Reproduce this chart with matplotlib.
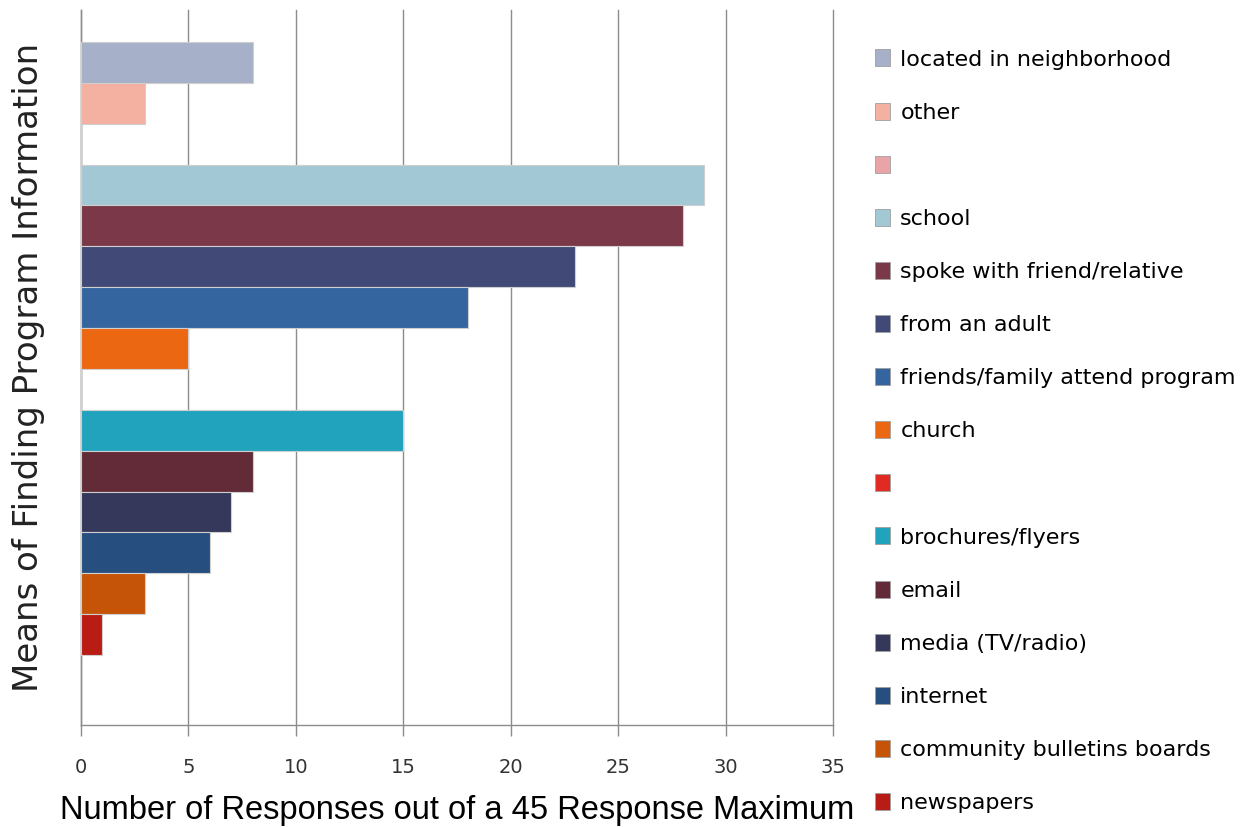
import matplotlib
matplotlib.use('Agg')
import matplotlib.pyplot as plt
from matplotlib.patches import Patch
import numpy as np

# one bar per source, grouped top to bottom; blank labels are empty series
labels = ['located in neighborhood', 'other', '',
          'school', 'spoke with friend/relative', 'from an adult',
          'friends/family attend program', 'church', '',
          'brochures/flyers', 'email', 'media (TV/radio)', 'internet',
          'community bulletins boards', 'newspapers']
values = [8, 3, 0,
          29, 28, 23, 18, 5, 0,
          15, 8, 7, 6, 3, 1]
colors = ['#A6B0C8', '#F4B1A2', '#E8A4A6',
          '#A2C8D6', '#7B3848', '#414A76', '#34659F', '#EC6711', '#E02A22',
          '#21A3BE', '#622B37', '#35375B', '#264F80', '#C55409', '#B81C14']
xticks = [0, 5, 10, 15, 20, 25, 30, 35]

fig = plt.figure(figsize=(12.44, 8.27), dpi=100)
ax = fig.add_axes([0.0651, 0.1233, 0.6045, 0.8646])

pos = np.arange(len(values))
ax.barh(pos, values, height=1.0, color=colors, edgecolor='#cfcfcf',
        linewidth=0.8, zorder=3)

ax.set_xlim(0, 35)
ax.set_ylim(16.21, -1.28)
ax.set_xticks(xticks)
ax.set_yticks([])
ax.grid(axis='x', color='#8c8c8c', linewidth=1.0, zorder=0)
for gl in ax.get_xgridlines():
    gl.set_clip_on(False)

for side in ['top', 'right']:
    ax.spines[side].set_visible(False)
for side in ['left', 'bottom']:
    ax.spines[side].set_color('#8c8c8c')
    ax.spines[side].set_linewidth(1.0)

ax.tick_params(axis='x', direction='out', length=8, width=1.0,
               color='#8c8c8c', labelsize=14, labelcolor='#333333', pad=16)

ax.set_xlabel('Number of Responses out of a 45 Response Maximum',
              fontsize=23.5, family='Liberation Sans', labelpad=13)
ax.set_ylabel('Means of Finding Program Information', fontsize=24.5,
              color='#222222', labelpad=26)

handles = [Patch(facecolor=c, edgecolor='#a0a0a0', linewidth=0.6) for c in colors]
leg = fig.legend(handles, labels, loc='upper left',
                 bbox_to_anchor=(0.696, 0.951), frameon=False,
                 fontsize=16, handlelength=0.7, handleheight=0.8,
                 handletextpad=0.45, labelspacing=1.48, borderaxespad=0)

fig.savefig('out.png', dpi=100)
